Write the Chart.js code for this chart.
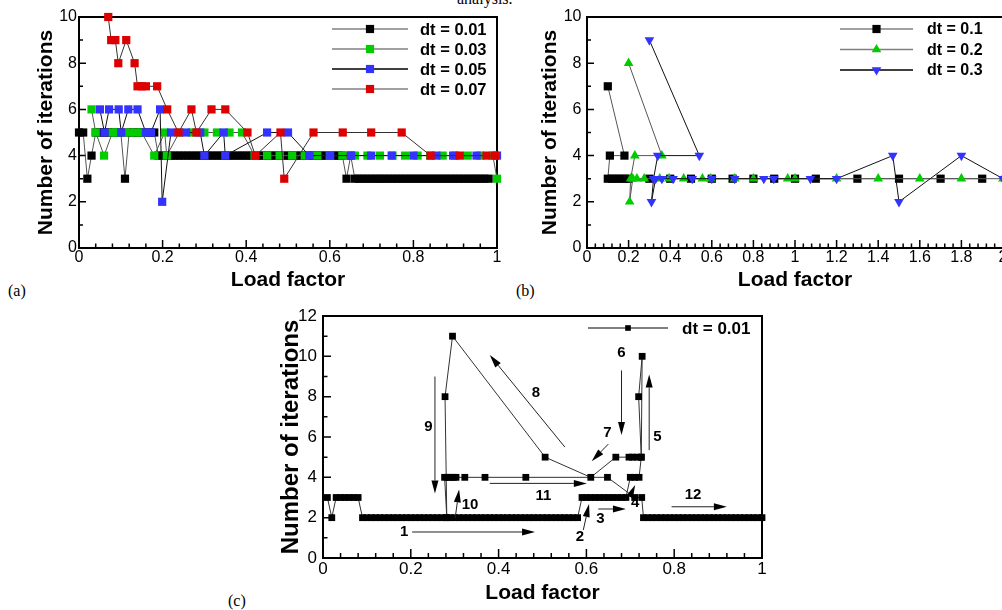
<!DOCTYPE html>
<html>
<head>
<meta charset="utf-8">
<script src="https://cdn.jsdelivr.net/npm/chart.js@4.4.0/dist/chart.umd.min.js"></script>
<style>
    html, body { margin: 0; padding: 0; background: #fff; overflow: hidden; }
    body { width: 1002px; height: 610px; position: relative; }
    canvas { position: absolute; }
    .lbl { position: absolute; font-family: "Liberation Serif", "Times New Roman", serif; font-size: 16px; line-height: 16px; color: #000; }
</style>
</head>
<body>
<div class="lbl" style="left:457px; top:-9px;">analysis.</div>
<div class="lbl" style="left:8px; top:283px;">(a)</div>
<div class="lbl" style="left:516px; top:283px;">(b)</div>
<div class="lbl" style="left:228px; top:593px;">(c)</div>
<canvas id="chart-a" width="510" height="295" style="left:0; top:0;"></canvas>
<canvas id="chart-b" width="505" height="295" style="left:510px; top:0;"></canvas>
<canvas id="chart-c" width="530" height="310" style="left:250px; top:298px;"></canvas>
<script>
// ---- data, panel (a): [load factor, iterations]
const a01 = [[0,5],[0.01,5],[0.02,3],[0.03,4],[0.04,5],[0.05,5],[0.06,5],[0.07,5],[0.08,5],[0.09,5],[0.1,5],[0.11,3],[0.12,5],[0.13,5],[0.14,5],[0.15,5],[0.16,5],[0.17,5],[0.18,5],[0.19,4],[0.2,4],[0.21,4],[0.22,4],[0.23,4],[0.24,4],[0.25,4],[0.26,4],[0.27,4],[0.28,4],[0.29,4],[0.3,4],[0.31,4],[0.32,4],[0.33,4],[0.34,4],[0.35,4],[0.36,4],[0.37,4],[0.38,4],[0.39,4],[0.4,4],[0.41,4],[0.42,4],[0.43,4],[0.44,4],[0.45,4],[0.46,4],[0.47,4],[0.48,4],[0.49,4],[0.5,4],[0.51,4],[0.52,4],[0.53,4],[0.54,4],[0.55,4],[0.56,4],[0.57,4],[0.58,4],[0.59,4],[0.6,4],[0.61,4],[0.62,4],[0.63,4],[0.64,3],[0.65,4],[0.66,3],[0.67,3],[0.68,3],[0.69,3],[0.7,3],[0.71,3],[0.72,3],[0.73,3],[0.74,3],[0.75,3],[0.76,3],[0.77,3],[0.78,3],[0.79,3],[0.8,3],[0.81,3],[0.82,3],[0.83,3],[0.84,3],[0.85,3],[0.86,3],[0.87,3],[0.88,3],[0.89,3],[0.9,3],[0.91,3],[0.92,3],[0.93,3],[0.94,3],[0.95,3],[0.96,3],[0.97,3],[0.98,3]];
const a03 = [[0.03,6],[0.04,5],[0.06,4],[0.08,5],[0.09,5],[0.12,5],[0.135,5],[0.15,5],[0.18,4],[0.205,5],[0.21,4],[0.24,5],[0.27,5],[0.3,5],[0.33,5],[0.36,5],[0.39,5],[0.42,4],[0.45,4],[0.48,4],[0.51,4],[0.54,4],[0.57,4],[0.6,4],[0.63,4],[0.66,4],[0.69,4],[0.72,4],[0.75,4],[0.78,4],[0.81,4],[0.84,4],[0.87,4],[0.9,4],[0.93,4],[0.96,4],[0.99,4],[1,3]];
const a05 = [[0.05,6],[0.061,5],[0.072,6],[0.095,6],[0.101,5],[0.118,6],[0.14,6],[0.16,5],[0.172,5],[0.194,6],[0.199,2],[0.22,5],[0.256,5],[0.29,5],[0.3,4],[0.346,5],[0.35,4],[0.45,5],[0.5,5],[0.551,4],[0.601,4],[0.651,4],[0.699,4],[0.748,4],[0.8,4],[0.855,4],[0.895,4],[0.951,4],[1,4]];
const a07 = [[0.07,10],[0.077,9],[0.087,9],[0.094,8],[0.113,9],[0.133,8],[0.14,7],[0.15,7],[0.16,7],[0.187,7],[0.211,6],[0.238,5],[0.269,6],[0.281,5],[0.317,6],[0.35,6],[0.403,5],[0.422,4],[0.482,5],[0.491,3],[0.561,5],[0.631,5],[0.699,5],[0.772,5],[0.841,4],[0.911,4],[0.975,4],[0.995,4]];

// ---- data, panel (b)
const b1 = [[0.1,7],[0.18,4],[0.11,4],[0.1,3],[0.12,3],[0.14,3],[0.16,3],[0.18,3],[0.2,3],[0.3,3],[0.4,3],[0.5,3],[0.6,3],[0.7,3],[0.8,3],[0.9,3],[1,3],[1.1,3],[1.3,3],[1.5,3],[1.7,3],[1.9,3]];
const b2 = [[0.2,8],[0.36,4],[0.23,4],[0.21,3],[0.205,2],[0.22,3],[0.24,3],[0.275,3],[0.35,3],[0.395,3],[0.465,3],[0.555,3],[0.595,3],[0.71,3],[0.8,3],[0.965,3],[1,3],[1.2,3],[1.4,3],[1.6,3],[1.8,3],[2,3]];
const b3 = [[0.3,9],[0.54,4],[0.34,4],[0.32,3],[0.31,2],[0.33,3],[0.36,3],[0.414,3],[0.506,3],[0.6,3],[0.71,3],[0.85,3],[0.898,3],[1.074,3],[1.2,3],[1.47,4],[1.5,2],[1.8,4],[2,3]];

// ---- data, panel (c)
const c01 = [[0.01,3],[0.02,2],[0.03,3],[0.04,3],[0.05,3],[0.06,3],[0.07,3],[0.08,3],[0.09,2],[0.1,2],[0.11,2],[0.12,2],[0.13,2],[0.14,2],[0.15,2],[0.16,2],[0.17,2],[0.18,2],[0.19,2],[0.2,2],[0.21,2],[0.22,2],[0.23,2],[0.24,2],[0.25,2],[0.26,2],[0.27,2],[0.28,2],[0.29,2],[0.3,2],[0.31,2],[0.32,2],[0.33,2],[0.34,2],[0.35,2],[0.36,2],[0.37,2],[0.38,2],[0.39,2],[0.4,2],[0.41,2],[0.42,2],[0.43,2],[0.44,2],[0.45,2],[0.46,2],[0.47,2],[0.48,2],[0.49,2],[0.5,2],[0.51,2],[0.52,2],[0.53,2],[0.54,2],[0.55,2],[0.56,2],[0.57,2],[0.58,2],[0.59,3],[0.6,3],[0.61,3],[0.62,3],[0.63,3],[0.64,3],[0.65,3],[0.66,3],[0.67,3],[0.68,3],[0.69,3],[0.7,4],[0.71,4],[0.72,4],[0.725,5],[0.719,8],[0.727,10],[0.725,5],[0.715,5],[0.705,5],[0.697,5],[0.667,5],[0.61,4],[0.506,5],[0.295,11],[0.278,8],[0.282,2],[0.277,4],[0.284,4],[0.29,4],[0.297,4],[0.303,4],[0.323,4],[0.369,4],[0.462,4],[0.648,4],[0.71,3],[0.726,3],[0.73,2],[0.74,2],[0.75,2],[0.76,2],[0.77,2],[0.78,2],[0.79,2],[0.8,2],[0.81,2],[0.82,2],[0.83,2],[0.84,2],[0.85,2],[0.86,2],[0.87,2],[0.88,2],[0.89,2],[0.9,2],[0.91,2],[0.92,2],[0.93,2],[0.94,2],[0.95,2],[0.96,2],[0.97,2],[0.98,2],[0.99,2],[1,2]];

// numbered arrows in (c): label position, arrow tail and head (data units)
const arrowsC = [
    { label: '1',  at: [0.185, 1.29], from: [0.203, 1.29], to: [0.483, 1.29] },
    { label: '2',  at: [0.585, 1.03], from: [0.593, 1.39], to: [0.606, 2.68] },
    { label: '3',  at: [0.632, 1.93], from: [0.627, 2.43], to: [0.69, 2.43] },
    { label: '4',  at: [0.711, 2.71], from: [0.699, 3.05], to: [0.711, 3.62] },
    { label: '5',  at: [0.762, 6.0],  from: [0.743, 5.35], to: [0.743, 9.1] },
    { label: '6',  at: [0.68, 10.15], from: [0.68, 9.3],   to: [0.68, 6.1] },
    { label: '7',  at: [0.648, 6.2],  from: [0.65, 5.65],  to: [0.612, 4.8] },
    { label: '8',  at: [0.485, 8.2],  from: [0.551, 5.5],  to: [0.38, 10.06] },
    { label: '9',  at: [0.24, 6.5],   from: [0.255, 9.0],  to: [0.255, 3.2] },
    { label: '10', at: [0.335, 2.63], from: [0.301, 1.97], to: [0.31, 3.4] },
    { label: '11', at: [0.502, 3.1],  from: [0.38, 3.7],   to: [0.601, 3.7] },
    { label: '12', at: [0.843, 3.15], from: [0.794, 2.54], to: [0.92, 2.54] }
];

const FONT = '"Liberation Sans", Arial, Helvetica, sans-serif';
const RED = '#dd0000', GREEN = '#00cc00', BLUE = '#3333ff', BLACK = '#000000';
Chart.defaults.font.family = FONT;
Chart.defaults.color = '#000';

function xy(arr) {
    return arr.map(([x, y]) => ({ x, y }));
}

// "1" rather than "1.0", as on the original axes
function plainNumber(v) {
    return String(+v.toFixed(2));
}

function marker(ctx, style, r, rot, x, y) {
    ctx.beginPath();
    if (style === 'rect') {
        const s = r * Math.SQRT1_2;
        ctx.rect(x - s, y - s, 2 * s, 2 * s);
    } else {
        const d = rot ? -1 : 1;
        ctx.moveTo(x, y - d * r);
        ctx.lineTo(x + r * 0.866, y + d * r / 2);
        ctx.lineTo(x - r * 0.866, y + d * r / 2);
        ctx.closePath();
    }
    ctx.fill();
}

// box round the plot and inward major/minor ticks on the bottom and left sides
const frameTicks = {
    id: 'frameTicks',
    beforeDatasetsDraw(chart, args, opts) {
        const { ctx, chartArea: area, scales: { x, y } } = chart;
        ctx.save();
        ctx.strokeStyle = '#000';
        ctx.lineWidth = 1.5;
        ctx.beginPath();
        const nx = Math.round((x.max - x.min) / opts.xMinor);
        for (let i = 0; i <= nx; i++) {
            const px = x.getPixelForValue(x.min + i * opts.xMinor);
            const len = i % opts.xEvery === 0 ? opts.major : opts.minor;
            ctx.moveTo(px, area.bottom);
            ctx.lineTo(px, area.bottom - len);
        }
        const ny = Math.round((y.max - y.min) / opts.yMinor);
        for (let i = 0; i <= ny; i++) {
            const py = y.getPixelForValue(y.min + i * opts.yMinor);
            const len = i % opts.yEvery === 0 ? opts.major - 1 : opts.minor - 0.5;
            ctx.moveTo(area.left, py);
            ctx.lineTo(area.left + len, py);
        }
        ctx.stroke();
        ctx.lineWidth = 2;
        ctx.strokeRect(area.left, area.top, area.right - area.left, area.bottom - area.top);
        ctx.restore();
    }
};

// legend: short line, marker in the middle, bold label
const legendLines = {
    id: 'legendLines',
    afterDatasetsDraw(chart, args, opts) {
        const { ctx } = chart;
        chart.data.datasets.forEach((ds, i) => {
            const yy = opts.y + i * opts.gap;
            ctx.save();
            ctx.strokeStyle = ds.legendLine;
            ctx.lineWidth = 1.5;
            ctx.beginPath();
            ctx.moveTo(opts.x0, yy);
            ctx.lineTo(opts.x1, yy);
            ctx.stroke();
            ctx.fillStyle = ds.pointBackgroundColor;
            marker(ctx, ds.pointStyle, opts.r || ds.pointRadius, ds.pointRotation, (opts.x0 + opts.x1) / 2, yy);
            ctx.fillStyle = '#000';
            ctx.font = 'bold ' + opts.size + 'px ' + FONT;
            ctx.textBaseline = 'middle';
            ctx.textAlign = 'left';
            ctx.fillText(ds.label, opts.xt, yy + 1);
            ctx.restore();
        });
    }
};

const arrowNotes = {
    id: 'arrowNotes',
    afterDatasetsDraw(chart) {
        const { ctx, scales: { x, y } } = chart;
        ctx.save();
        arrowsC.forEach(a => {
            const x0 = x.getPixelForValue(a.from[0]), y0 = y.getPixelForValue(a.from[1]);
            const x1 = x.getPixelForValue(a.to[0]), y1 = y.getPixelForValue(a.to[1]);
            const ang = Math.atan2(y1 - y0, x1 - x0);
            const hl = 13, hw = 3.5;
            ctx.strokeStyle = '#222';
            ctx.lineWidth = 1;
            ctx.beginPath();
            ctx.moveTo(x0, y0);
            ctx.lineTo(x1 - Math.cos(ang) * hl, y1 - Math.sin(ang) * hl);
            ctx.stroke();
            ctx.fillStyle = '#000';
            ctx.beginPath();
            ctx.moveTo(x1, y1);
            ctx.lineTo(x1 - Math.cos(ang) * hl - Math.sin(ang) * hw, y1 - Math.sin(ang) * hl + Math.cos(ang) * hw);
            ctx.lineTo(x1 - Math.cos(ang) * hl + Math.sin(ang) * hw, y1 - Math.sin(ang) * hl - Math.cos(ang) * hw);
            ctx.closePath();
            ctx.fill();
            ctx.font = 'bold 15px ' + FONT;
            ctx.textAlign = 'center';
            ctx.textBaseline = 'middle';
            ctx.fillText(a.label, x.getPixelForValue(a.at[0]), y.getPixelForValue(a.at[1]));
        });
        ctx.restore();
    }
};

function series(label, data, color, style, r, line, legendLine, order, rot) {
    return {
        label: label,
        data: xy(data),
        showLine: true,
        borderColor: line,
        borderWidth: 1,
        pointStyle: style,
        pointRadius: r,
        pointHoverRadius: r,
        pointRotation: rot || 0,
        pointBackgroundColor: color,
        pointBorderWidth: 0,
        legendLine: legendLine,
        order: order,
        clip: false
    };
}

function makeChart(id, c) {
    return new Chart(document.getElementById(id), {
        type: 'scatter',
        data: { datasets: c.datasets },
        options: {
            responsive: false,
            animation: false,
            events: [],
            layout: { padding: c.padding },
            plugins: {
                legend: { display: false },
                tooltip: { enabled: false },
                frameTicks: c.ticks,
                legendLines: c.legend
            },
            scales: {
                x: {
                    type: 'linear', min: 0, max: c.xMax,
                    grid: { display: false, drawTicks: false },
                    border: { display: false },
                    ticks: { stepSize: 0.2, padding: c.xPad, maxRotation: 0, autoSkip: false, font: { size: c.tickSize }, callback: plainNumber },
                    title: { display: true, text: 'Load factor', font: { size: 21, weight: 'bold' }, padding: { top: 0, bottom: 2.4 } },
                    afterFit: s => { s.height = c.xH; }
                },
                y: {
                    type: 'linear', min: 0, max: c.yMax,
                    grid: { display: false, drawTicks: false },
                    border: { display: false },
                    ticks: { stepSize: 2, padding: c.yPad, font: { size: c.tickSize }, callback: plainNumber },
                    title: { display: true, text: 'Number of iterations', font: { size: c.yTitleSize, weight: 'bold' }, padding: { top: c.yTitlePad, bottom: 0 } },
                    afterFit: s => { s.width = c.yW; }
                }
            }
        },
        plugins: c.plugins
    });
}

document.addEventListener('DOMContentLoaded', () => {
    makeChart('chart-a', {
        datasets: [
            series('dt = 0.01', a01, BLACK, 'rect', 5.8, '#555', '#808080', 4),
            series('dt = 0.03', a03, GREEN, 'rect', 5.8, '#555', '#808080', 3),
            series('dt = 0.05', a05, BLUE, 'rect', 5.8, '#111', '#000', 2),
            series('dt = 0.07', a07, RED, 'rect', 5.8, '#333', '#808080', 1)
        ],
        padding: { left: 0, top: 17, right: 13, bottom: 0 },
        xMax: 1, yMax: 10, xH: 47, yW: 79, xPad: 0, yPad: 2, tickSize: 16,
        yTitleSize: 21, yTitlePad: 33.4,
        ticks: { xMinor: 0.04, xEvery: 5, yMinor: 1, yEvery: 2, major: 8, minor: 4.5 },
        legend: { x0: 332, x1: 408, xt: 420, y: 29, gap: 20, size: 16.5 },
        plugins: [frameTicks, legendLines]
    });

    makeChart('chart-b', {
        datasets: [
            series('dt = 0.1', b1, BLACK, 'rect', 5.8, '#555', '#808080', 3),
            series('dt = 0.2', b2, GREEN, 'triangle', 5.6, '#555', '#808080', 2),
            series('dt = 0.3', b3, BLUE, 'triangle', 5.6, '#111', '#000', 1, 180)
        ],
        padding: { left: 0, top: 17, right: 12, bottom: 0 },
        xMax: 2, yMax: 10, xH: 47, yW: 77, xPad: 0, yPad: 5.5, tickSize: 16,
        yTitleSize: 21, yTitlePad: 28,
        ticks: { xMinor: 0.04, xEvery: 5, yMinor: 1, yEvery: 2, major: 8, minor: 4.5 },
        legend: { x0: 330, x1: 403, xt: 417, y: 29, gap: 20.5, size: 16 },
        plugins: [frameTicks, legendLines]
    });

    makeChart('chart-c', {
        datasets: [
            series('dt = 0.01', c01, BLACK, 'rect', 4.8, '#333', '#555', 1)
        ],
        padding: { left: 0, top: 18, right: 18, bottom: 0 },
        xMax: 1, yMax: 12, xH: 50, yW: 73, xPad: 1.4, yPad: 6, tickSize: 17,
        yTitleSize: 24, yTitlePad: 26.6,
        ticks: { xMinor: 0.04, xEvery: 5, yMinor: 1, yEvery: 2, major: 9, minor: 5 },
        legend: { x0: 338, x1: 418, xt: 432, y: 30, gap: 20, size: 17, r: 4 },
        plugins: [frameTicks, legendLines, arrowNotes]
    });
});
</script>
</body>
</html>
